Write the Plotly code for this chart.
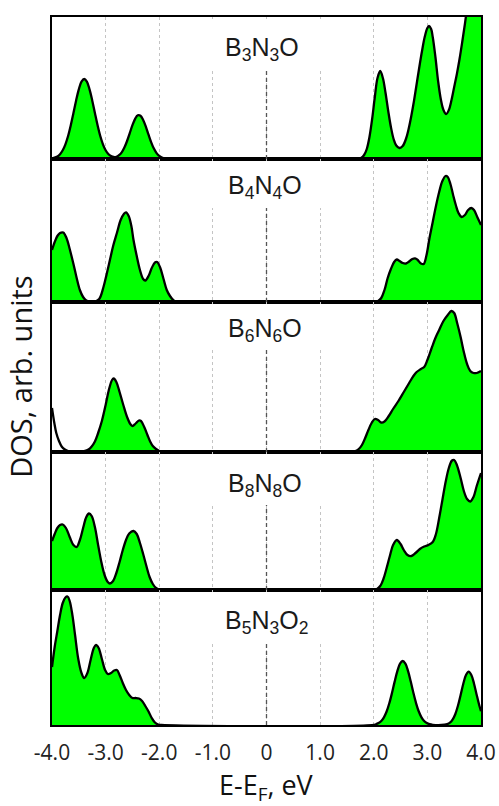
import plotly.graph_objects as go
from plotly.subplots import make_subplots

# ---------------- data ----------------
labels = ["B<sub>3</sub>N<sub>3</sub>O", "B<sub>4</sub>N<sub>4</sub>O", "B<sub>6</sub>N<sub>6</sub>O",
          "B<sub>8</sub>N<sub>8</sub>O", "B<sub>5</sub>N<sub>3</sub>O<sub>2</sub>"]

tick_vals = [-4, -3, -2, -1, 0, 1, 2, 3, 4]
tick_text = ["-4.0", "-3.0", "-2.0", "-1.0", "0", "1.0", "2.0", "3.0", "4.0"]

# panel maxima (arb. units, top of each panel)
panel_max = [142, 143, 150, 138, 135]

# B3N3O
e1 = [-4.0, -3.9, -3.85, -3.8, -3.75, -3.7, -3.65, -3.6, -3.55, -3.5, -3.45, -3.4, -3.35, -3.3, -3.25,
      -3.2, -3.15, -3.1, -3.05, -3.0, -2.95, -2.9, -2.85, -2.8, -2.75, -2.7, -2.65, -2.6, -2.55, -2.5,
      -2.45, -2.4, -2.35, -2.3, -2.25, -2.2, -2.15, -2.1, -2.05, -2.0, -1.95, -1.9, -1.8, 1.65,
      1.72, 1.77, 1.82, 1.87, 1.92, 1.97, 2.02, 2.07, 2.12, 2.17, 2.22, 2.27, 2.32, 2.37, 2.42, 2.48,
      2.54, 2.6, 2.65, 2.7, 2.75, 2.8, 2.85, 2.9, 2.95, 3.0, 3.03, 3.07, 3.1, 3.15, 3.2, 3.25, 3.3,
      3.35, 3.4, 3.45, 3.5, 3.55, 3.6, 3.65, 3.7, 3.75, 3.8, 3.9, 4.0]
d1 = [0.5, 2.5, 4.8, 8.7, 14.7, 23, 33.7, 46, 58.6, 69.7, 77.3, 80, 77.3, 69.7, 58.6,
      46, 33.7, 23, 14.7, 8.7, 5, 3, 2, 2.2, 3.8, 6.7, 11.5, 18, 25.9, 33.8,
      40.2, 43.7, 43.3, 39, 32.3, 24.3, 16.7, 10.4, 5.9, 3.1, 1.5, 0.6, 0, 0,
      0.3, 1.3, 4, 10, 22, 40, 62, 81, 88, 81, 66, 48, 32, 20, 13.5, 11,
      13, 20, 30, 43, 58, 75, 92, 108, 122, 131, 133, 130, 122, 102, 78, 60, 49,
      45, 49, 59, 72, 85, 100, 117, 135, 155, 175, 215, 250]

# B4N4O
e2 = [-4.0, -3.95, -3.9, -3.85, -3.79, -3.73, -3.67, -3.6, -3.54, -3.48, -3.42, -3.36, -3.3, -3.2,
      -3.12, -3.04, -2.98, -2.92, -2.86, -2.79, -2.72, -2.66, -2.62, -2.57, -2.52, -2.48, -2.42, -2.36,
      -2.3, -2.26, -2.2, -2.14, -2.08, -2.04, -1.98, -1.92, -1.86, -1.8, -1.74, -1.67, 2.0,
      2.08, 2.14, 2.2, 2.26, 2.32, 2.38, 2.43, 2.48, 2.54, 2.6, 2.66, 2.72, 2.77, 2.82, 2.88, 2.93,
      2.98, 3.04, 3.1, 3.16, 3.22, 3.28, 3.34, 3.38, 3.43, 3.48, 3.53, 3.58, 3.64, 3.7, 3.76, 3.82,
      3.87, 3.93, 4.0]
d2 = [52, 60, 66, 69, 69.5, 64, 53, 38, 24, 12, 5, 1.5, 0.5, 0.5,
      3, 15, 28, 42, 56, 69, 82, 88, 89.7, 86, 76, 62, 46, 32,
      23, 21.5, 26, 34, 39.5, 40, 34, 23, 12, 6, 2, 0, 0,
      1, 4, 12, 24, 33, 40, 42.5, 41, 39, 38.5, 40.5, 43, 43.7, 42, 38.5, 38,
      46, 64, 80, 96, 110, 121, 126, 125, 118, 107, 97, 89, 85, 87, 92, 94,
      92, 85, 77]

# B6N6O (first part drawn without fill, as in the reference)
e3a = [-4.0, -3.96, -3.92, -3.87, -3.82, -3.76, -3.7, -3.6, -3.5, -3.4]
d3a = [44, 30, 19, 11, 5.5, 2.5, 1, 0.3, 0.3, 0.8]
e3 = [-3.4, -3.32, -3.26, -3.2, -3.14, -3.07, -3.0, -2.94, -2.88, -2.85, -2.8, -2.74, -2.67, -2.6,
      -2.54, -2.5, -2.44, -2.38, -2.34, -2.28, -2.22, -2.17, -2.12, -2.06, -2.0, -1.94, 1.6,
      1.66, 1.72, 1.78, 1.84, 1.9, 1.96, 2.02, 2.08, 2.14, 2.2, 2.28, 2.36, 2.46, 2.56, 2.66, 2.74,
      2.8, 2.88, 2.94, 3.0, 3.08, 3.15, 3.22, 3.3, 3.38, 3.45, 3.5, 3.56, 3.62, 3.68, 3.74, 3.8,
      3.86, 3.92, 4.0]
d3 = [0.8, 2.5, 5.5, 10.5, 19, 31, 47, 62, 72, 73.5, 70, 60, 47, 35,
      28, 26, 28.5, 31.5, 31, 25, 17, 10.5, 6, 3, 1, 0, 0,
      1, 3, 7, 14, 22, 29, 33, 32, 29.5, 30.5, 36, 43, 51, 60, 69, 76,
      80, 83, 85, 92, 104, 114, 122, 131, 137, 141, 139, 128, 115, 100, 88, 81,
      79, 79, 81]

# B8N8O
e4 = [-4.0, -3.95, -3.9, -3.85, -3.8, -3.74, -3.67, -3.6, -3.54, -3.48, -3.42, -3.36, -3.31, -3.26,
      -3.2, -3.14, -3.08, -3.02, -2.96, -2.92, -2.86, -2.8, -2.74, -2.68, -2.62, -2.56, -2.48, -2.42,
      -2.36, -2.3, -2.24, -2.18, -2.12, -2.06, -2.0, -1.95, 2.0,
      2.06, 2.12, 2.18, 2.24, 2.3, 2.36, 2.43, 2.5, 2.56, 2.63, 2.7, 2.78, 2.86, 2.94, 3.02, 3.1,
      3.16, 3.22, 3.28, 3.34, 3.4, 3.46, 3.5, 3.55, 3.62, 3.68, 3.74, 3.8, 3.86, 3.92, 4.0]
d4 = [49, 56, 62, 65, 65.5, 62, 53, 45, 43, 50, 62, 73, 76.5, 74,
      63, 45, 28, 15, 8, 6.5, 9, 17, 28, 40, 50, 56.5, 59, 56,
      47, 36, 24, 13, 6, 2, 0.5, 0, 0,
      1, 4, 11, 22, 34, 45, 50, 46, 40, 35, 34, 37, 41, 43.5, 45, 48,
      56, 72, 90, 108, 122, 129.5, 130, 125, 112, 99, 91, 88.5, 93, 104, 117]

# B5N3O2
e5 = [-4.0, -3.95, -3.9, -3.85, -3.8, -3.75, -3.71, -3.67, -3.62, -3.57, -3.51, -3.45, -3.4, -3.34,
      -3.28, -3.22, -3.18, -3.13, -3.07, -3.01, -2.96, -2.9, -2.84, -2.79, -2.74, -2.68, -2.62, -2.56,
      -2.5, -2.44, -2.38, -2.32, -2.26, -2.2, -2.14, -2.08, -2.02, -1.96, 2.0,
      2.04, 2.09, 2.14, 2.19, 2.24, 2.29, 2.34, 2.39, 2.44, 2.49, 2.54, 2.59, 2.64, 2.69, 2.74, 2.79,
      2.84, 2.89, 2.94, 2.99, 3.04, 3.1, 3.32, 3.37, 3.42, 3.47, 3.52, 3.57, 3.62, 3.67, 3.72, 3.77,
      3.82, 3.87, 3.92, 3.97, 4.0]
d5 = [58, 78, 94, 110, 122, 127.5, 128.5, 124, 110, 90, 66, 52, 47, 52,
      65, 77, 80, 77, 66, 55, 51, 52, 54.5, 55, 50, 42, 35, 30,
      27, 27, 26.5, 24, 19, 13.5, 7, 2.5, 0.5, 0, 0,
      0.8, 1.9, 4, 7.7, 13.5, 21.7, 32, 43.4, 53.8, 61.3, 64, 61.3, 53.8, 43.4, 32, 21.7,
      13.5, 7.7, 4, 1.9, 0.8, 0.2, 0.3, 0.9, 2.3, 5.4, 10.8, 19.2, 30, 41.3, 50, 53.3,
      50, 41.3, 30, 19.2, 13.8]

energies = [e1, e2, e3, e4, e5]
dos = [d1, d2, d3, d4, d5]

# ---------------- styling ----------------
GREEN = "#00ff00"
TICK_FONT = "Open Sans"
LABEL_FONT = "Liberation Sans"
W, HGT = 499, 806
ML, MR, MT, MB = 52, 18, 17, 81
PLOT_H = HGT - MT - MB

fig = make_subplots(rows=5, cols=1, shared_xaxes=True, vertical_spacing=0,
                    row_heights=panel_max)

# unfilled start of the B6N6O curve
fig.add_trace(go.Scatter(x=e3a, y=d3a, mode="lines", line=dict(color="black", width=2.3, shape="spline"),
                         hoverinfo="skip", showlegend=False), row=3, col=1)

for i in range(5):
    fig.add_trace(go.Scatter(x=energies[i], y=dos[i], mode="lines", fill="tozeroy", fillcolor=GREEN,
                             line=dict(color="black", width=2.3, shape="spline"),
                             showlegend=False), row=i + 1, col=1)

box_px = [53, 49, 48, 53, 52]
label_x = [-0.08, -0.03, -0.03, -0.03, 0.0]
label_y = [0.9555, 0.7595, 0.5575, 0.3385, 0.1455]

# paper fraction of each panel top
tops = []
acc = 0
for H in panel_max:
    tops.append(1 - acc / PLOT_H)
    acc += H

for i in range(5):
    sfx = "" if i == 0 else str(i + 1)
    H = panel_max[i]
    frac = 1 - box_px[i] / H
    fig.update_yaxes(range=[0, H], showticklabels=False, showgrid=False, zeroline=False, ticks="",
                     showline=True, mirror=True, linecolor="black", linewidth=2, automargin=False,
                     row=i + 1, col=1)
    fig.update_xaxes(range=[-4, 4], tickvals=tick_vals, ticktext=tick_text, showgrid=True,
                     gridcolor="#c4c4c4", griddash="3px,3px", gridwidth=1, zeroline=False, ticks="",
                     showline=True, mirror=True, linecolor="black", linewidth=2, automargin=False,
                     showticklabels=(i == 4), row=i + 1, col=1)
    # darker dashed line at the Fermi level
    fig.add_shape(type="line", xref="x" + sfx, yref="y" + sfx + " domain",
                  x0=0, x1=0, y0=0, y1=frac, line=dict(color="#555555", width=1.3, dash="4px,3px"),
                  layer="above")
    # white box behind the label (interrupts grid lines)
    fig.add_annotation(text=" ", xref="x" + sfx, x=0, yref="paper", y=tops[i] - 2.0 / PLOT_H,
                       yanchor="top", xanchor="center", showarrow=False, width=166,
                       height=box_px[i] - 2, bgcolor="white", borderpad=0, borderwidth=0)
    fig.add_annotation(text=labels[i], xref="x" + sfx, x=label_x[i], yref="paper", y=label_y[i],
                       yanchor="middle", showarrow=False,
                       font=dict(family=LABEL_FONT, size=25, color="#1a1a1a"))

fig.update_xaxes(tickfont=dict(family=TICK_FONT, size=21, color="#222222"), ticklabelstandoff=8,
                 row=5, col=1)

fig.add_annotation(text="DOS, arb. units", xref="paper", yref="paper", x=-0.072, y=0.492,
                   textangle=-90, showarrow=False, xanchor="center", yanchor="middle",
                   font=dict(family=TICK_FONT, size=29, color="#111111"))
fig.add_annotation(text="E-E<sub>F</sub>, eV", xref="paper", yref="paper", x=0.5, y=-0.087,
                   showarrow=False, xanchor="center", yanchor="middle",
                   font=dict(family=TICK_FONT, size=27, color="#111111"))

fig.update_layout(width=W, height=HGT, margin=dict(l=ML, r=MR, t=MT, b=MB, autoexpand=False),
                  paper_bgcolor="white", plot_bgcolor="white", showlegend=False)

fig.write_html("out.html", config={"displayModeBar": False, "responsive": False},
               post_script="document.body.style.margin='0px';document.body.style.overflow='hidden';")
